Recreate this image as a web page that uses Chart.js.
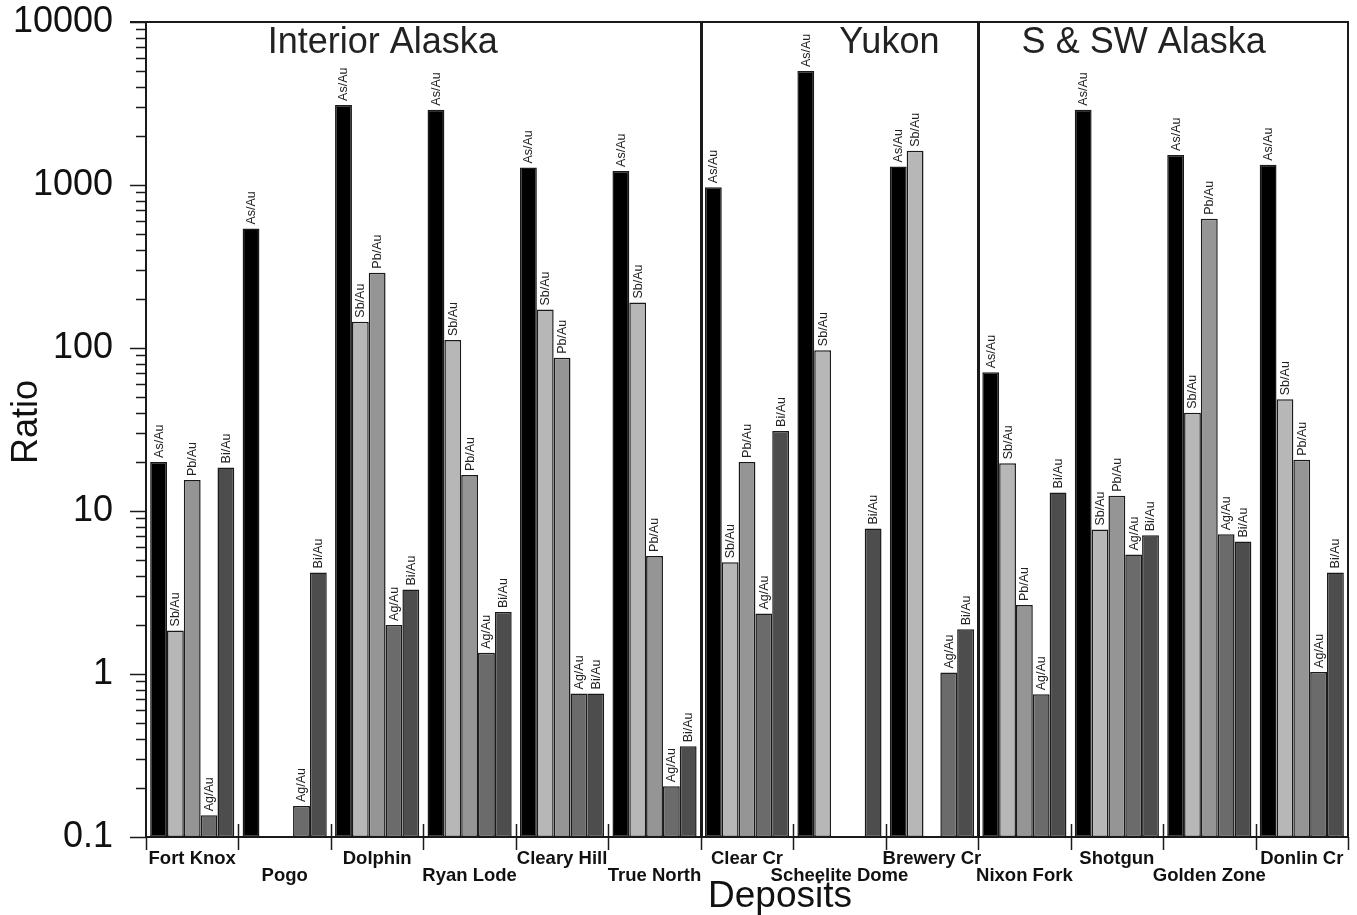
<!DOCTYPE html>
<html>
<head>
<meta charset="utf-8">
<script src="https://cdn.jsdelivr.net/npm/chart.js@4.4.0/dist/chart.umd.min.js"></script>
<style>
  html, body { margin: 0; padding: 0; background: #fff; }
  #wrap { width: 1357px; height: 915px; }
</style>
</head>
<body>
<div id="wrap"><canvas id="chart"></canvas></div>
<script>
const deposits = ['Fort Knox', 'Pogo', 'Dolphin', 'Ryan Lode', 'Cleary Hill', 'True North',
  'Clear Cr', 'Scheelite Dome', 'Brewery Cr', 'Nixon Fork', 'Shotgun', 'Golden Zone', 'Donlin Cr'];

// element / gold ratios per deposit (null = not reported)
const asAu = [20, 540, 3100, 2900, 1280, 1220, 970, 5000, 1300, 71, 2900, 1530, 1330];
const sbAu = [1.85, null, 145, 112, 172, 190, 4.85, 97, 1620, 19.6, 7.7, 40, 48.5];
const pbAu = [15.5, null, 290, 16.6, 87, 5.3, 20, null, null, 2.65, 12.4, 620, 20.6];
const agAu = [0.136, 0.155, 2.0, 1.35, 0.76, 0.205, 2.35, null, 1.02, 0.75, 5.4, 7.2, 1.03];
const biAu = [18.5, 4.2, 3.3, 2.4, 0.76, 0.36, 31, 7.8, 1.88, 13, 7.1, 6.5, 4.2];

const ratioNames = ['As/Au', 'Sb/Au', 'Pb/Au', 'Ag/Au', 'Bi/Au'];
const ratioColors = ['#000000', '#b7b7b7', '#959595', '#6b6b6b', '#4d4d4d'];

const yTicks = [0.1, 1, 10, 100, 1000, 10000];

const regionNames = ['Interior Alaska', 'Yukon', 'S & SW Alaska'];
const regionStart = [0, 6, 9];

const FONT = '"Liberation Sans", Arial, sans-serif';
const INK = '#1a1a1a';

const decorations = {
  id: 'decorations',
  afterDatasetsDraw(chart) {
    const { ctx, chartArea: a, scales: { y } } = chart;
    const step = (a.right - a.left) / deposits.length;
    ctx.save();

    // bar labels
    ctx.font = '12.5px ' + FONT;
    ctx.textBaseline = 'middle';
    ctx.textAlign = 'left';
    chart.data.datasets.forEach((ds, d) => {
      const meta = chart.getDatasetMeta(d);
      meta.data.forEach((bar, i) => {
        if (ds.data[i] == null) return;
        const w = ctx.measureText(ds.label).width;
        ctx.save();
        ctx.translate(bar.x, bar.y - 4);
        ctx.rotate(-Math.PI / 2);
        ctx.fillStyle = '#fff';
        ctx.fillRect(-1, -6.5, w + 2, 13);
        ctx.fillStyle = '#222';
        ctx.fillText(ds.label, 0, 0.5);
        ctx.restore();
      });
    });

    // frame: top and right edges
    ctx.strokeStyle = INK;
    ctx.lineWidth = 2;
    ctx.beginPath();
    ctx.moveTo(a.left - 16, a.top);
    ctx.lineTo(a.right, a.top);
    ctx.lineTo(a.right, a.bottom);
    ctx.stroke();

    // region separators
    ctx.lineWidth = 3;
    regionStart.slice(1).forEach(idx => {
      const px = Math.round(a.left + idx * step) + 0.5;
      ctx.beginPath();
      ctx.moveTo(px, a.top);
      ctx.lineTo(px, a.bottom);
      ctx.stroke();
    });

    // log ticks on the y axis
    ctx.lineWidth = 1.5;
    for (let k = 0; k < yTicks.length; k++) {
      const v = yTicks[k];
      let py = Math.round(y.getPixelForValue(v)) + 0.5;
      ctx.beginPath();
      ctx.moveTo(a.left - 16, py);
      ctx.lineTo(a.left, py);
      ctx.stroke();
      if (k === yTicks.length - 1) break;
      for (let m = 2; m < 10; m++) {
        py = Math.round(y.getPixelForValue(v * m)) + 0.5;
        ctx.beginPath();
        ctx.moveTo(a.left - 10, py);
        ctx.lineTo(a.left, py);
        ctx.stroke();
      }
    }

    // category boundary ticks crossing the x axis
    ctx.lineWidth = 1.5;
    for (let i = 0; i <= deposits.length; i++) {
      const px = Math.round(a.left + i * step) + 0.5;
      ctx.beginPath();
      ctx.moveTo(px, i === 0 || i === deposits.length ? a.bottom : a.bottom - 13);
      ctx.lineTo(px, a.bottom + 13);
      ctx.stroke();
    }

    // region titles
    const titleAt = [2.56, 8.04, 10.79];
    ctx.fillStyle = '#222';
    ctx.font = '36px ' + FONT;
    ctx.textAlign = 'center';
    ctx.textBaseline = 'alphabetic';
    regionNames.forEach((name, r) => {
      ctx.fillText(name, a.left + titleAt[r] * step, a.top + 31);
    });

    // axis titles
    ctx.fillStyle = '#111';
    ctx.font = '37px ' + FONT;
    ctx.textBaseline = 'middle';
    ctx.fillText('Deposits', 780, 897);
    ctx.save();
    ctx.translate(27, 422);
    ctx.rotate(-Math.PI / 2);
    ctx.font = '36px ' + FONT;
    ctx.fillText('Ratio', 0, 0);
    ctx.restore();

    ctx.restore();
  }
};

const seriesValues = [asAu, sbAu, pbAu, agAu, biAu];

new Chart(document.getElementById('chart'), {
  type: 'bar',
  data: {
    labels: deposits,
    datasets: seriesValues.map((vals, k) => ({
      label: ratioNames[k],
      data: vals,
      backgroundColor: ratioColors[k],
      borderColor: INK,
      borderWidth: 1.5,
      borderSkipped: false,
      categoryPercentage: 0.91,
      barPercentage: 1.0
    }))
  },
  options: {
    responsive: true,
    maintainAspectRatio: false,
    animation: false,
    layout: { padding: { top: 22, right: 9, left: 0, bottom: 0 } },
    plugins: { legend: { display: false }, tooltip: { enabled: false } },
    scales: {
      x: {
        grid: { display: false, drawTicks: false },
        border: { display: true, color: INK, width: 2 },
        ticks: {
          autoSkip: false,
          maxRotation: 0,
          minRotation: 0,
          padding: 13,
          color: '#111',
          font: { family: FONT, size: 18.5, weight: 'bold', lineHeight: 0.92 },
          callback: (v, i) => (i % 2 ? ['', deposits[i]] : deposits[i])
        },
        afterFit(scale) {
          scale.height = 78;
          scale.paddingLeft = 0;
          scale.paddingRight = 0;
        }
      },
      y: {
        type: 'logarithmic',
        min: 0.1,
        max: 10000,
        grid: { display: false, drawTicks: false },
        border: { display: true, color: INK, width: 2 },
        ticks: {
          autoSkip: false,
          padding: 33,
          color: '#111',
          font: { family: FONT, size: 36 },
          callback: v => String(v)
        },
        afterBuildTicks(scale) {
          scale.ticks = yTicks.map(v => ({ value: v }));
        },
        afterFit(scale) {
          scale.width = 146;
          scale.paddingTop = 0;
          scale.paddingBottom = 0;
        }
      }
    }
  },
  plugins: [decorations]
});
</script>
</body>
</html>
